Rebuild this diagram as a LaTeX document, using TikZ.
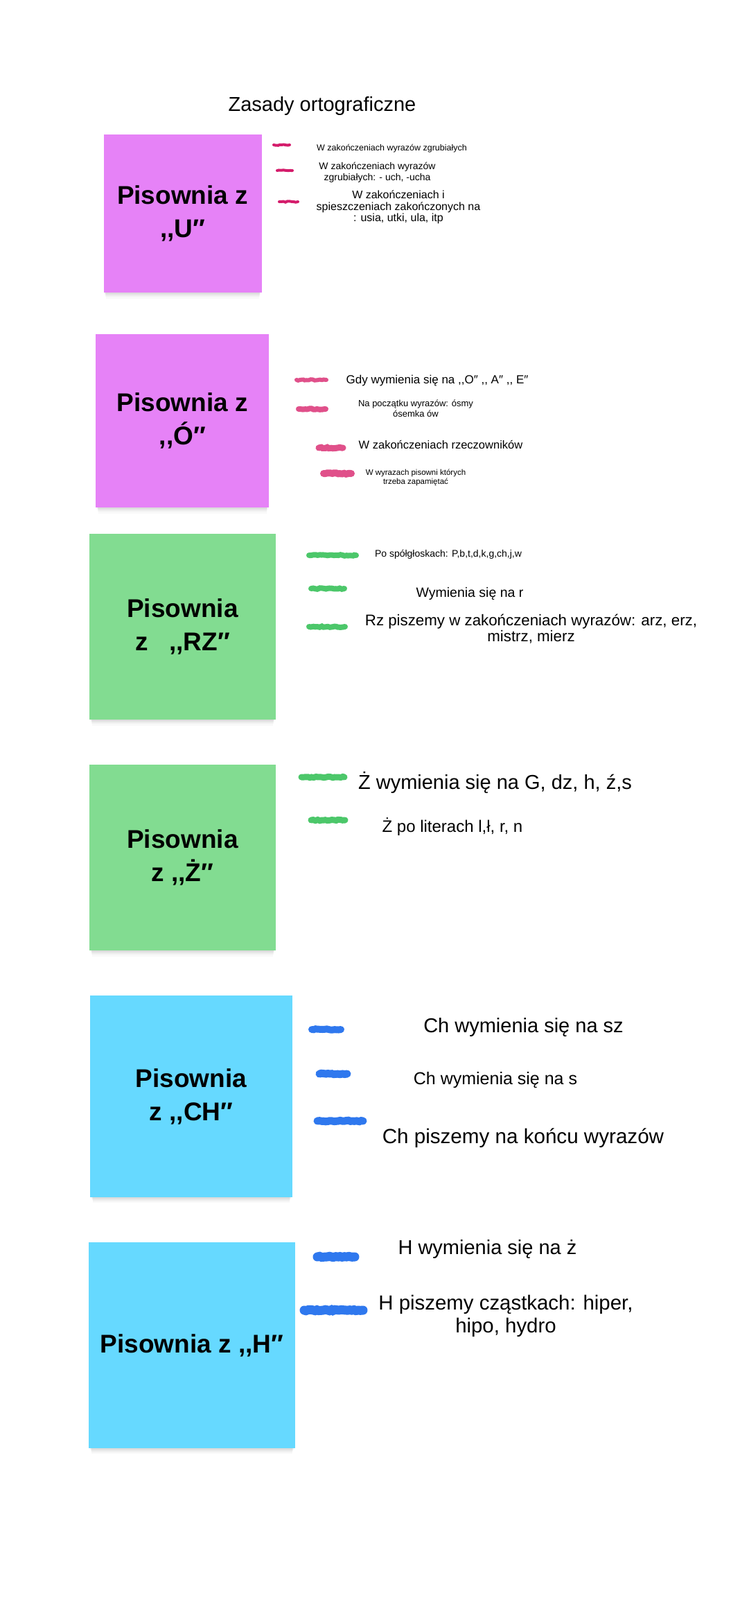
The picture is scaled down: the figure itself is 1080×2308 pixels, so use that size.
\documentclass[tikz,border=0pt]{standalone}
\usepackage{fontspec}
\setmainfont{Liberation Sans}
\usepackage{xcolor}
\usetikzlibrary{shadows, decorations.pathmorphing}

\definecolor{notepink}{HTML}{E682F7}
\definecolor{notegreen}{HTML}{82DC91}
\definecolor{noteblue}{HTML}{66D9FF}
\definecolor{inkcrimson}{HTML}{D41C6B}
\definecolor{inkpink}{HTML}{E0508A}
\definecolor{inkgreen}{HTML}{4CC76A}
\definecolor{inkblue}{HTML}{2F78EE}

\newcommand{\lowq}{,\kern0pt,}

\begin{document}
\begin{tikzpicture}[
    x=1pt, y=-1pt,
    note/.style={rectangle, align=center, inner sep=0pt, font=\bfseries\fontsize{37}{48}\selectfont,
        drop shadow={shadow xshift=0pt, shadow yshift=-13pt, shadow scale=0.97, fill=black, opacity=0.025},
        drop shadow={shadow xshift=0pt, shadow yshift=-10pt, shadow scale=0.975, fill=black, opacity=0.03},
        drop shadow={shadow xshift=0pt, shadow yshift=-7pt, shadow scale=0.98, fill=black, opacity=0.04},
        drop shadow={shadow xshift=0pt, shadow yshift=-4pt, shadow scale=0.985, fill=black, opacity=0.05}},
    rule/.style={align=center, inner sep=0pt},
    sz/.style 2 args={font=\fontsize{#1}{#2}\selectfont},
    ink/.style={line width=#1, line cap=round, decorate,
        decoration={random steps, segment length=3pt, amplitude=0.8pt}}
]

% Page
\fill[white] (0,0) rectangle (1080,2308);
\useasboundingbox (0,0) rectangle (1080,2308);

% Title
\node[sz={29}{34}] (title) at (465,153) {Zasady ortograficzne};

% Notes
\node[note, fill=notepink, minimum width=228pt, minimum height=228pt] (pU) at (263.6,307.5) {Pisownia z\\\lowq U″};
\node[note, fill=notepink, minimum width=250pt, minimum height=250pt] (pO) at (263.3,606.7) {Pisownia z\\\lowq Ó″};
\node[note, fill=notegreen, minimum width=269pt, minimum height=268pt] (pRZ) at (263.5,904) {Pisownia\\z\ \ \ \lowq RZ″};
\node[note, fill=notegreen, minimum width=269pt, minimum height=268pt] (pZ) at (263.5,1237) {Pisownia\\z \lowq Ż″};
\node[note, fill=noteblue, minimum width=292pt, minimum height=291pt] (pCH) at (276,1581.5) {Pisownia\\z \lowq CH″};
\node[note, fill=noteblue, minimum width=298pt, minimum height=297pt] (pH) at (277,1940.5) {Pisownia z \lowq H″};

% Rules for U
\node[rule, sz={12.5}{15}] (u1) at (565.5,214) {W zakończeniach wyrazów zgrubiałych};
\node[rule, sz={14}{15.5}] (u2) at (544.5,249) {W zakończeniach wyrazów\\zgrubiałych: - uch, -ucha};
\node[rule, sz={16}{16.5}] (u3) at (575,299) {W zakończeniach i\\spieszczeniach zakończonych na\\: usia, utki, ula, itp};

% Rules for O
\node[rule, sz={17}{20}] (o1) at (631,549) {Gdy wymienia się na \lowq O″ \lowq\ A″ \lowq\ E″};
\node[rule, sz={13}{15}] (o2) at (600,589) {Na początku wyrazów: ósmy\\ósemka ów};
\node[rule, sz={16.5}{19}] (o3) at (636,641) {W zakończeniach rzeczowników};
\node[rule, sz={11.5}{12.5}] (o4) at (600,689) {W wyrazach pisowni których\\trzeba zapamiętać};

% Rules for RZ
\node[rule, sz={14}{17}] (r1) at (647,800) {Po spółgłoskach: P,b,t,d,k,g,ch,j,w};
\node[rule, sz={19.5}{23}] (r2) at (678,856) {Wymienia się na r};
\node[rule, sz={22.3}{23.5}] (r3) at (766.5,907) {Rz piszemy w zakończeniach wyrazów: arz, erz,\\mistrz, mierz};

% Rules for Z
\node[rule, sz={29}{33}] (z1) at (714.5,1129) {Ż wymienia się na G, dz, h, ź,s};
\node[rule, sz={24}{28}] (z2) at (653,1193) {Ż po literach l,ł, r, n};

% Rules for CH
\node[rule, sz={29}{33}] (c1) at (755.5,1482) {Ch wymienia się na sz};
\node[rule, sz={25}{29}] (c2) at (715,1558) {Ch wymienia się na s};
\node[rule, sz={29.6}{33}] (c3) at (755,1642) {Ch piszemy na końcu wyrazów};

% Rules for H
\node[rule, sz={29}{33}] (h1) at (703.5,1802) {H wymienia się na ż};
\node[rule, sz={29.4}{33}] (h2) at (730,1898) {H piszemy cząstkach: hiper,\\hipo, hydro};

% Marks
\draw[ink=4pt, inkcrimson] (395,209) -- (418,209);
\draw[ink=4pt, inkcrimson] (400,246) -- (422,246);
\draw[ink=4pt, inkcrimson] (403,291) -- (430,291);

\draw[ink=6pt, inkpink] (428,548) -- (471,548);
\draw[ink=8pt, inkpink] (431,590) -- (470,590);
\draw[ink=9pt, inkpink] (460,646) -- (495,646);
\draw[ink=10pt, inkpink] (467,683) -- (507,683);

\draw[ink=8pt, inkgreen] (446,801) -- (514,801);
\draw[ink=8pt, inkgreen] (449,849) -- (497,849);
\draw[ink=8pt, inkgreen] (446,904) -- (498,904);

\draw[ink=9pt, inkgreen] (435,1121) -- (497,1121);
\draw[ink=9pt, inkgreen] (449,1183) -- (498,1183);

\draw[ink=10pt, inkblue] (450,1485) -- (492,1485);
\draw[ink=11pt, inkblue] (461,1549) -- (501,1549);
\draw[ink=11pt, inkblue] (458,1617) -- (524,1617);

\draw[ink=13pt, inkblue] (458,1813) -- (512,1813);
\draw[ink=13pt, inkblue] (439,1890) -- (524,1890);

\end{tikzpicture}
\end{document}
